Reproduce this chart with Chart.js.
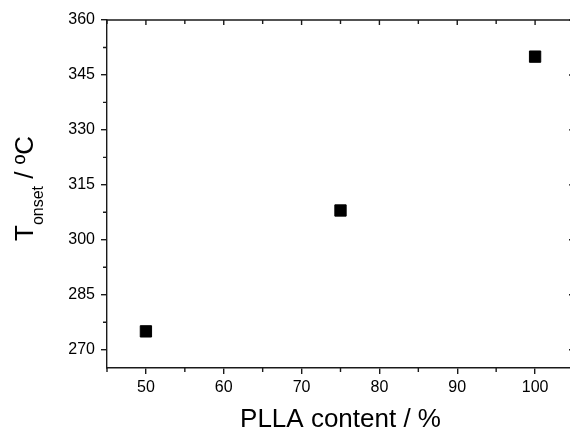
<!DOCTYPE html>
<html lang="en">
<head>
<meta charset="UTF-8">
<title>Tonset vs PLLA content</title>
<script src="https://cdn.jsdelivr.net/npm/chart.js"></script>
<style>
    html, body { margin: 0; padding: 0; background: #fff; overflow: hidden; }
    #wrap { width: 570px; height: 432px; overflow: hidden; }
</style>
</head>
<body>
<div id="wrap">
    <canvas id="grafico" width="583" height="432"></canvas>
</div>

<script>
// dados
var conteudoPLLA = [50, 75, 100];
var tOnset = [275, 308, 350];
var ticksX = [50, 60, 70, 80, 90, 100];
var ticksY = [270, 285, 300, 315, 330, 345, 360];

var corEixo = '#1a1a1a';
var fonte = '"Liberation Sans", Arial, sans-serif';

// desenha moldura (topo e direita), ticks espelhados e ticks menores, e o titulo do eixo y
var molduraPlugin = {
    id: 'moldura',
    afterDraw: function (chart) {
        var ctx = chart.ctx;
        var a = chart.chartArea;
        var sx = chart.scales.x;
        var sy = chart.scales.y;
        ctx.save();
        ctx.strokeStyle = corEixo;
        ctx.lineWidth = 1.4;

        // linhas topo e direita
        ctx.beginPath();
        ctx.moveTo(a.left, a.top);
        ctx.lineTo(a.right, a.top);
        ctx.lineTo(a.right, a.bottom);
        ctx.stroke();

        ctx.beginPath();
        // x: maiores e menores
        for (var v = 45; v <= 105; v += 5) {
            var px = sx.getPixelForValue(v);
            var maior = (v % 10 === 0);
            // topo, para dentro
            ctx.moveTo(px, a.top);
            ctx.lineTo(px, a.top + (maior ? 5 : 4));
            // menores embaixo, para fora
            if (!maior) {
                ctx.moveTo(px, a.bottom);
                ctx.lineTo(px, a.bottom + 4);
            }
        }
        // y: maiores e menores
        for (var w = 270; w <= 360; w += 7.5) {
            var py = sy.getPixelForValue(w);
            var maiorY = ((w - 270) % 15 === 0);
            ctx.moveTo(a.right, py);
            ctx.lineTo(a.right - (maiorY ? 5 : 4), py);
            if (!maiorY) {
                ctx.moveTo(a.left, py);
                ctx.lineTo(a.left - 4, py);
            }
        }
        ctx.stroke();

        // titulo do eixo y com subscrito
        ctx.translate(33, 241);
        ctx.rotate(-Math.PI / 2);
        ctx.fillStyle = '#000';
        ctx.textBaseline = 'alphabetic';
        ctx.textAlign = 'left';
        ctx.font = '26px ' + fonte;
        ctx.fillText('T', 0, 0);
        var wT = ctx.measureText('T').width;
        ctx.font = '16px ' + fonte;
        ctx.fillText('onset', wT, 10);
        var wSub = ctx.measureText('onset').width;
        ctx.font = '26px ' + fonte;
        ctx.fillText(' / ºC', wT + wSub, 0);
        ctx.restore();
    }
};

var dados = {
    datasets: [{
        label: 'Tonset',
        data: conteudoPLLA.map(function (x, i) { return { x: x, y: tOnset[i] }; }),
        pointStyle: 'rect',
        pointRadius: 8,
        pointHoverRadius: 8,
        backgroundColor: '#000',
        borderColor: '#000',
        borderWidth: 1,
        showLine: false
    }]
};

var config = {
    type: 'scatter',
    data: dados,
    options: {
        responsive: false,
        animation: false,
        layout: { padding: { top: 20, right: 6, left: 0, bottom: 0 } },
        plugins: {
            legend: { display: false },
            tooltip: { enabled: false }
        },
        scales: {
            x: {
                type: 'linear',
                min: 45,
                max: 105,
                afterBuildTicks: function (s) { s.ticks = ticksX.map(function (v) { return { value: v }; }); },
                afterFit: function (s) { s.height = 64; s.paddingLeft = 0; s.paddingRight = 0; },
                grid: { drawOnChartArea: false, drawTicks: true, tickLength: 6, color: corEixo, lineWidth: 1.4 },
                border: { display: true, color: corEixo, width: 1.4 },
                ticks: { color: '#000', font: { family: fonte, size: 16 }, padding: 4, maxRotation: 0 },
                title: { display: true, text: 'PLLA content / %', color: '#000', font: { family: fonte, size: 26 }, padding: { top: 0, bottom: -3 } }
            },
            y: {
                type: 'linear',
                min: 265,
                max: 360,
                afterBuildTicks: function (s) { s.ticks = ticksY.map(function (v) { return { value: v }; }); },
                afterFit: function (s) { s.width = 107; s.paddingTop = 0; s.paddingBottom = 0; },
                grid: { drawOnChartArea: false, drawTicks: true, tickLength: 6, color: corEixo, lineWidth: 1.4 },
                border: { display: true, color: corEixo, width: 1.4 },
                ticks: { color: '#000', font: { family: fonte, size: 16 }, padding: 6 }
            }
        }
    },
    plugins: [molduraPlugin]
};

var grafico = new Chart(document.getElementById('grafico'), config);
</script>
</body>
</html>
